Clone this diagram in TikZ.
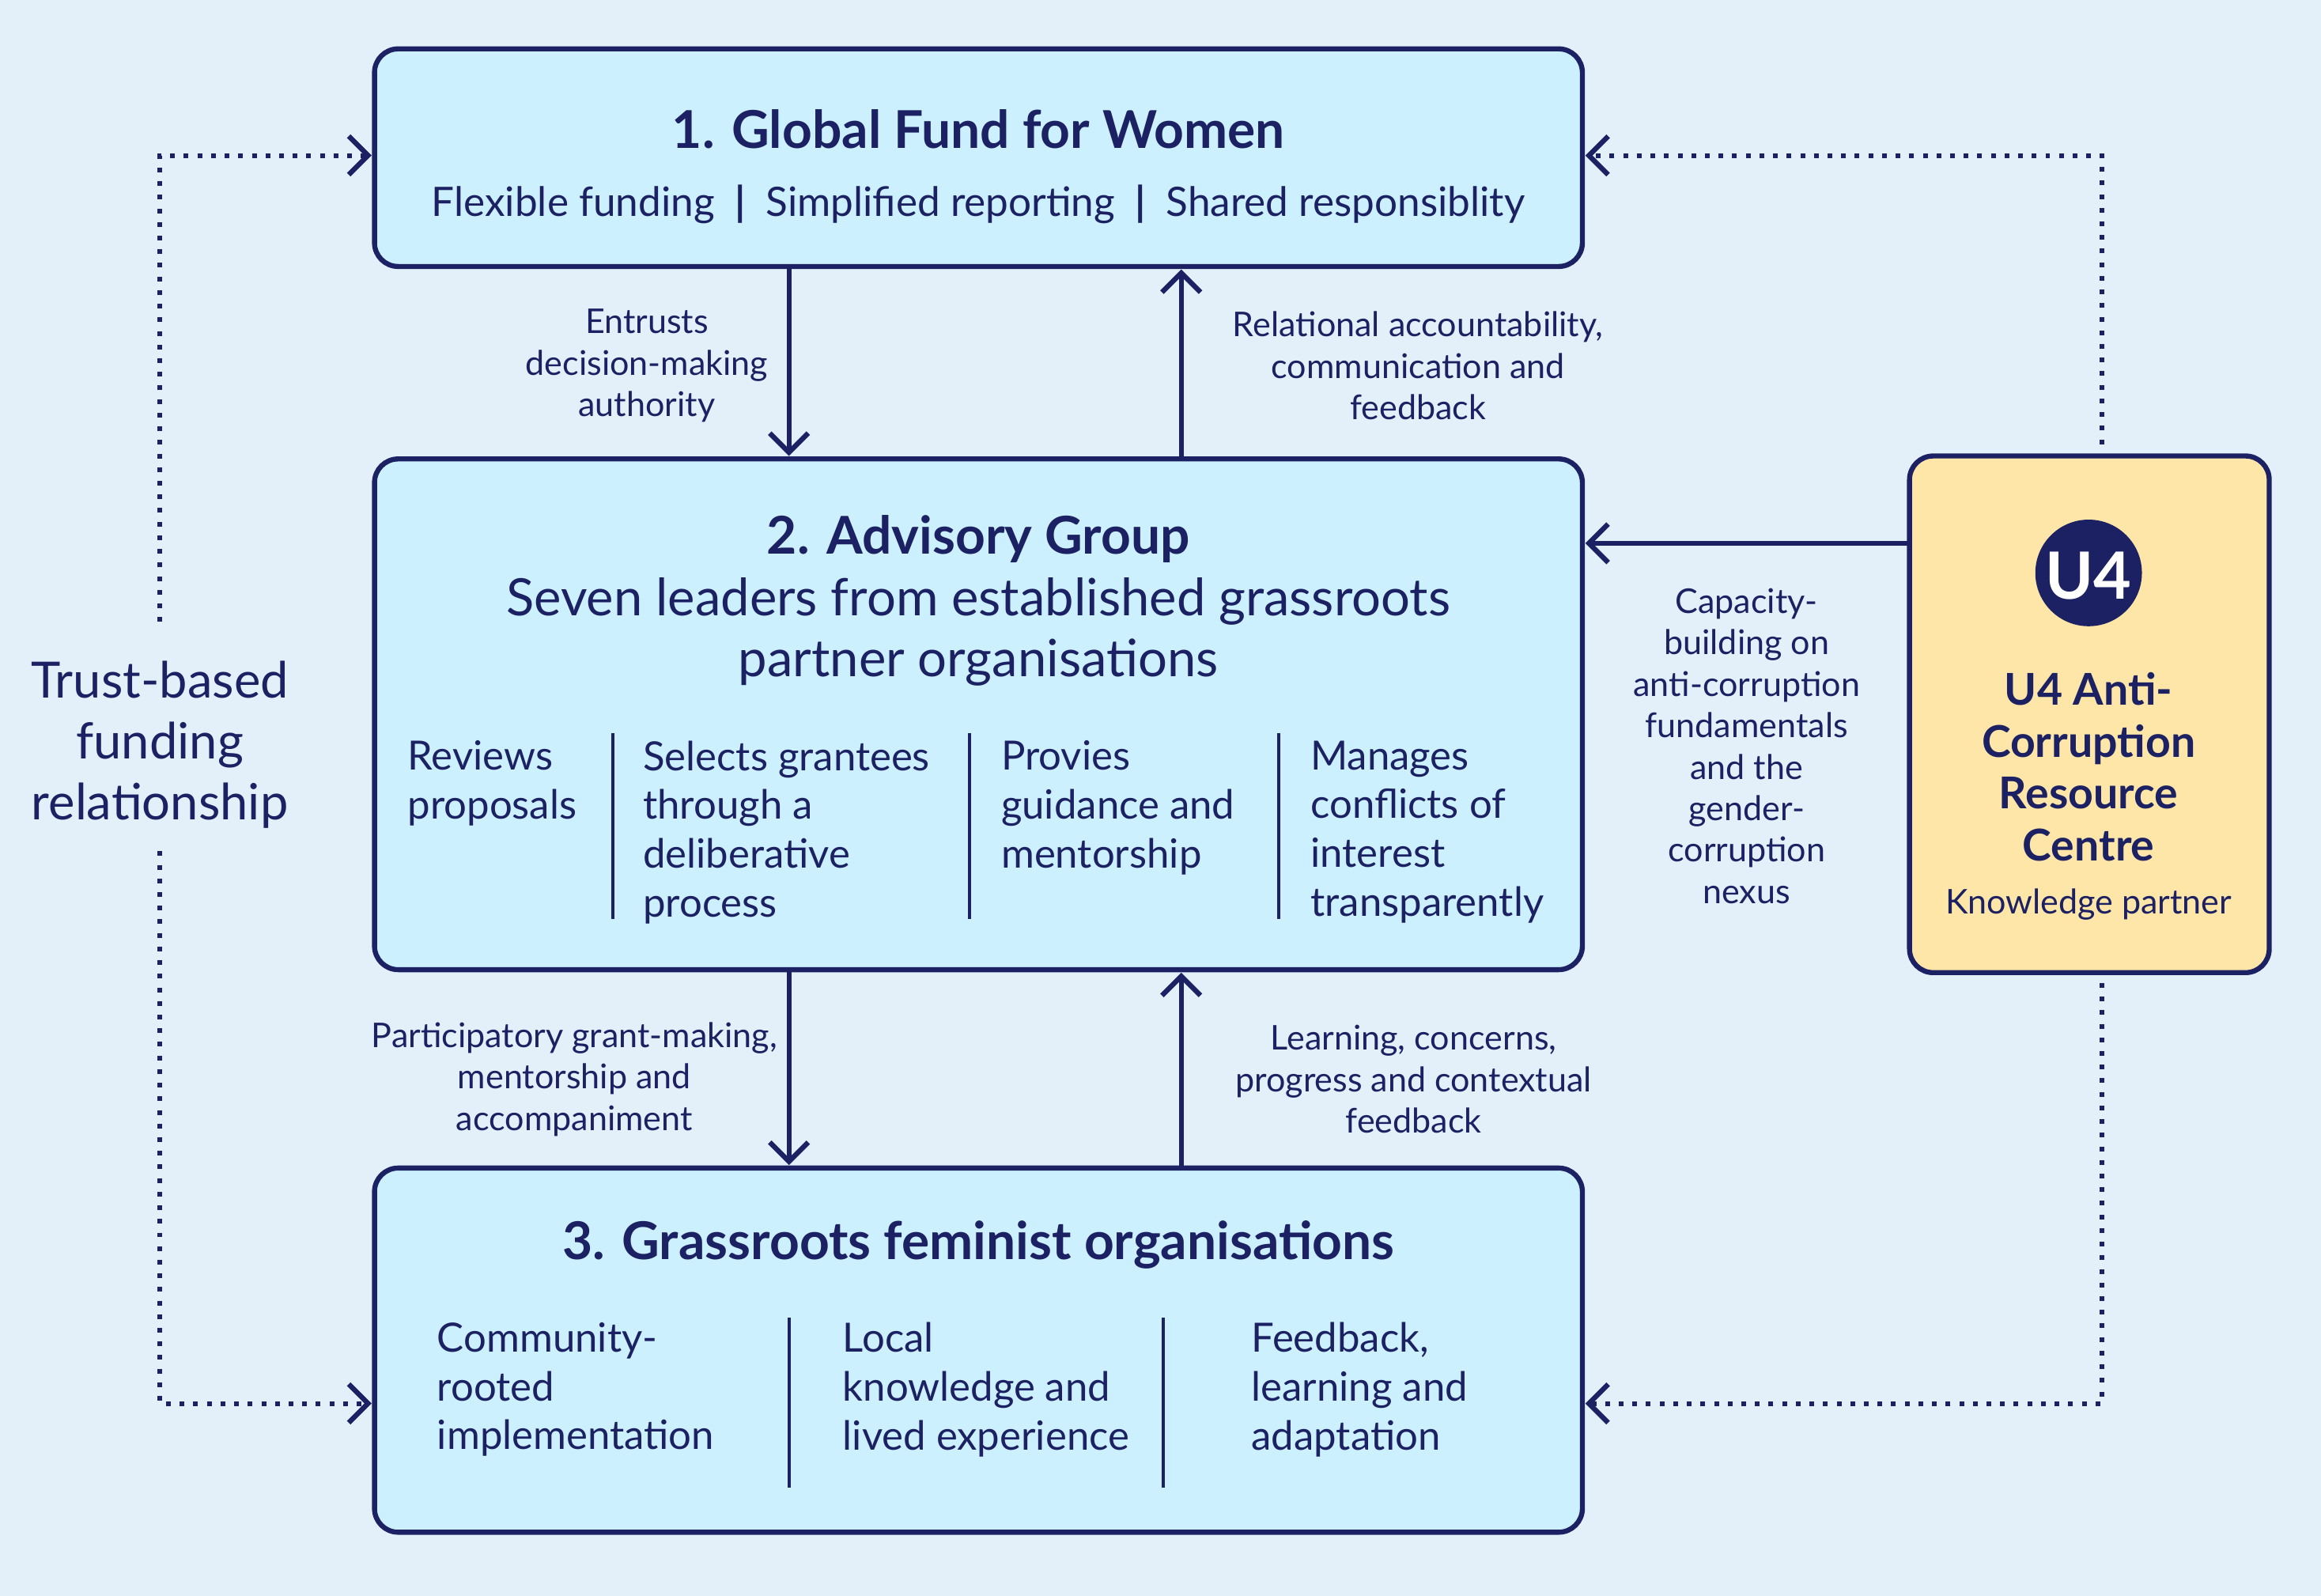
\documentclass[tikz,border=0pt]{standalone}
\usepackage{fontspec}
\setmainfont{Lato}
\usetikzlibrary{arrows.meta}
\definecolor{navy}{HTML}{1B2162}
\definecolor{boxfill}{HTML}{CCF0FD}
\definecolor{bg}{HTML}{E3F0FA}
\definecolor{u4fill}{HTML}{FDE6A7}
\begin{document}
\begin{tikzpicture}[x=0.5pt,y=-0.5pt,
  box/.style={draw=navy,line width=1.7pt,rounded corners=8pt,fill=boxfill},
  arr/.style={draw=navy,line width=1.7pt,-{Straight Barb[length=6.5pt,width=13pt,line width=1.7pt]}},
  dot/.style={draw=navy,line width=1.6pt,dash pattern=on 1.6pt off 3pt,-{Straight Barb[length=6.5pt,width=13pt,line width=1.7pt,sep=0pt]}},
  title/.style={text=navy,font=\fontsize{17.6}{20}\selectfont\bfseries,inner sep=0},
  sub/.style={text=navy,font=\fontsize{17.4}{20.5}\selectfont,inner sep=0,align=center},
  col/.style={text=navy,font=\fontsize{13.6}{16.5}\selectfont,inner sep=0,align=left,anchor=north west},
  lab/.style={text=navy,font=\fontsize{11.5}{14}\selectfont,inner sep=0,align=center},
  divl/.style={draw=navy,line width=1pt}]
\fill[bg] (0,0) rectangle (1568,1078);
\useasboundingbox (0,0) rectangle (1568,1078);
% boxes
\path[box] (253,33) rectangle (1069,180);
\path[box] (253,310) rectangle (1069,655);
\path[box] (253,789) rectangle (1069,1035);
\path[box,fill=u4fill] (1290,308) rectangle (1533,657);
% box1
\node[title] (t1) at (661,87) {1. Global Fund for Women};
\node[text=navy,font=\fontsize{13.7}{16}\selectfont,inner sep=0] (s1) at (661,138) {Flexible funding\enspace\textbf{|}\enspace Simplified reporting\enspace\textbf{|}\enspace Shared responsiblity};
% box2
\node[title] (t2) at (661,364) {2. Advisory Group};
\node[sub] (s2) at (661,427) {Seven leaders from established grassroots\\partner organisations};
\node[col] (c21) at (275,500) {Reviews\\proposals};
\node[col] (c22) at (434,500) {Selects grantees\\through a\\deliberative\\process};
\node[col] (c23) at (676,500) {Provies\\guidance and\\mentorship};
\node[col] (c24) at (885,500) {Manages\\conflicts of\\interest\\transparently};
\draw[divl] (414,495) -- (414,621) (655,495) -- (655,621) (864,495) -- (864,621);
% box3
\node[title] (t3) at (661,841) {3. Grassroots feminist organisations};
\node[col] (c31) at (295,893) {Community-\\rooted\\implementation};
\node[col] (c32) at (569,893) {Local\\knowledge and\\lived experience};
\node[col] (c33) at (845,893) {Feedback,\\learning and\\adaptation};
\draw[divl] (533,890) -- (533,1005) (786,890) -- (786,1005);
% U4
\fill[navy] (1411,387) circle (36);
\node[text=white,font=\fontsize{22}{22}\selectfont\bfseries,inner sep=0] (logo) at (1411,389) {U4};
\node[text=navy,font=\fontsize{14.8}{17.5}\selectfont\bfseries,inner sep=0,align=center] (u4t) at (1411,518) {U4 Anti-\\Corruption\\Resource\\Centre};
\node[text=navy,font=\fontsize{11.5}{14}\selectfont,inner sep=0] (u4s) at (1411,611) {Knowledge partner};
% arrows
\coordinate (a1s) at (533,181); \coordinate (a1e) at (533,308);
\draw[arr] (a1s) -- (a1e);
\coordinate (a2s) at (798,309); \coordinate (a2e) at (798,182);
\draw[arr] (a2s) -- (a2e);
\coordinate (a3s) at (533,656); \coordinate (a3e) at (533,787);
\draw[arr] (a3s) -- (a3e);
\coordinate (a4s) at (798,788); \coordinate (a4e) at (798,657);
\draw[arr] (a4s) -- (a4e);
\coordinate (a5s) at (1289,367); \coordinate (a5e) at (1071,367);
\draw[arr] (a5s) -- (a5e);
\node[lab] (l1) at (437,247) {Entrusts\\decision-making\\authority};
\node[lab] (l2) at (958,247) {Relational accountability,\\communication and\\feedback};
\node[lab] (l3) at (388,729) {Participatory grant-making,\\mentorship and\\accompaniment};
\node[lab] (l4) at (955,729) {Learning, concerns,\\progress and contextual\\feedback};
\node[lab] (l5) at (1180,504) {Capacity-\\building on\\anti-corruption\\fundamentals\\and the\\gender-\\corruption\\nexus};
% dotted
\node[text=navy,font=\fontsize{16.9}{20.5}\selectfont,inner sep=0,align=center] (tr) at (108,503) {Trust-based\\funding\\relationship};
\coordinate (d1) at (108,420); \coordinate (d2) at (251,105);
\draw[dot] (d1) |- (d2);
\coordinate (d3) at (108,575); \coordinate (d4) at (251,948);
\draw[dot] (d3) |- (d4);
\coordinate (d5) at (1420,300); \coordinate (d6) at (1071,105);
\draw[dot] (d5) |- (d6);
\coordinate (d7) at (1420,664); \coordinate (d8) at (1071,948);
\draw[dot] (d7) |- (d8);
\end{tikzpicture}
\end{document}
